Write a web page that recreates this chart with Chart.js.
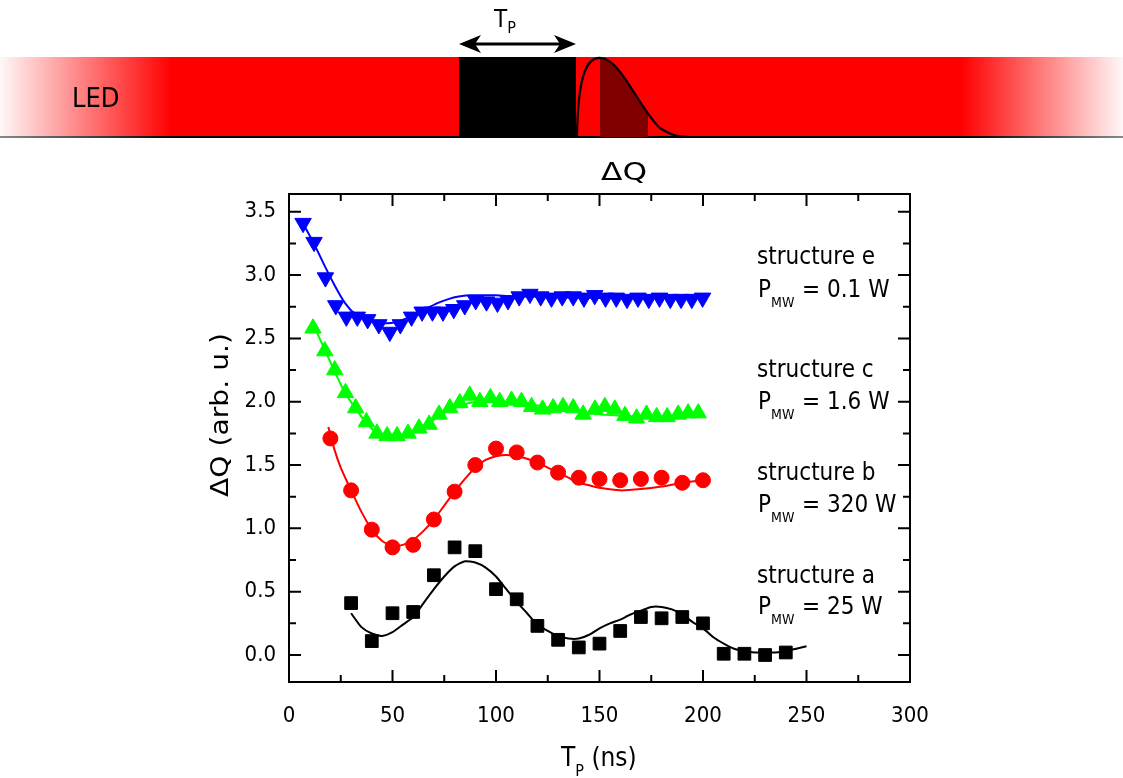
<!DOCTYPE html>
<html><head><meta charset="utf-8">
<script src="https://cdn.jsdelivr.net/npm/chart.js@4.4.0/dist/chart.umd.min.js"></script>
<style>
html,body{margin:0;padding:0;background:#fff;}
#wrap{position:relative;width:1123px;height:778px;overflow:hidden;}
#c{position:absolute;left:0;top:0;}
#ov{position:absolute;left:0;top:0;pointer-events:none;}
#ov text{font-family:"DejaVu Sans Condensed","DejaVu Sans",sans-serif;fill:#000;}
</style></head><body>
<div id="wrap">
<canvas id="c" width="1123" height="778"></canvas>
<svg id="ov" width="1123" height="778" viewBox="0 0 1123 778" xmlns="http://www.w3.org/2000/svg">
 <defs>
  <linearGradient id="led" x1="0" y1="0" x2="1123" y2="0" gradientUnits="userSpaceOnUse">
   <stop offset="0" stop-color="#ff0000" stop-opacity="0.03"/>
   <stop offset="0.153" stop-color="#ff0000" stop-opacity="1"/>
   <stop offset="0.856" stop-color="#ff0000" stop-opacity="1"/>
   <stop offset="1" stop-color="#ff0000" stop-opacity="0.03"/>
  </linearGradient>
  <linearGradient id="base" x1="0" y1="0" x2="1123" y2="0" gradientUnits="userSpaceOnUse">
   <stop offset="0" stop-color="#888888"/>
   <stop offset="0.16" stop-color="#000000"/>
   <stop offset="0.86" stop-color="#000000"/>
   <stop offset="1" stop-color="#888888"/>
  </linearGradient>
  <clipPath id="pc"><path d="M577 137 C578 70 588 57 601 58 C620 58 640 110 660 128 C672 136 680 137 690 137 Z"/></clipPath>
 </defs>
 <rect x="0" y="57" width="1123" height="80" fill="url(#led)"/>
 <line x1="0" y1="137" x2="1123" y2="137" stroke="url(#base)" stroke-width="2"/>
 <rect x="459" y="57" width="117" height="81" fill="#000"/>
 <rect x="600" y="50" width="48" height="90" fill="#800000" clip-path="url(#pc)"/>
 <path d="M577 137 C578 70 588 57 601 58 C620 58 640 110 660 128 C672 136 680 137 690 137" fill="none" stroke="#000" stroke-width="2.2"/>
 <line x1="472" y1="44" x2="563" y2="44" stroke="#000" stroke-width="3"/>
 <polygon points="459,44 481,35 475,44 481,53" fill="#000"/>
 <polygon points="576,44 554,35 560,44 554,53" fill="#000"/>
 <text x="494" y="27" font-size="24">T<tspan font-size="16" dy="6">P</tspan></text>
 <text x="72" y="107" font-size="27">LED</text>
 <text x="601" y="180" font-size="25" textLength="46" lengthAdjust="spacingAndGlyphs">ΔQ</text>

 <text transform="translate(228,415) rotate(-90)" text-anchor="middle" font-size="24" textLength="164" lengthAdjust="spacingAndGlyphs">ΔQ (arb. u.)</text>
 <text x="561" y="766" font-size="26">T<tspan font-size="16" dy="10">P</tspan><tspan dy="-10"> (ns)</tspan></text>

 <text x="757" y="264" font-size="24">structure e</text>
 <text x="758" y="297" font-size="24">P<tspan font-size="14" dy="10">MW</tspan><tspan x="802" dy="-10">= 0.1 W</tspan></text>
 <text x="757" y="377" font-size="24">structure c</text>
 <text x="758" y="409" font-size="24">P<tspan font-size="14" dy="10">MW</tspan><tspan x="802" dy="-10">= 1.6 W</tspan></text>
 <text x="757" y="480" font-size="24">structure b</text>
 <text x="758" y="512" font-size="24">P<tspan font-size="14" dy="10">MW</tspan><tspan x="802" dy="-10">= 320 W</tspan></text>
 <text x="757" y="583" font-size="24">structure a</text>
 <text x="758" y="614" font-size="24">P<tspan font-size="14" dy="10">MW</tspan><tspan x="802" dy="-10">= 25 W</tspan></text>
</svg>
</div>
<script>
// ---- tick labels ----
const xTicks = [0, 50, 100, 150, 200, 250, 300];
const yTicks = [0.0, 0.5, 1.0, 1.5, 2.0, 2.5, 3.0, 3.5];

// ---- structure e (blue, down triangles) ----
const blueX = [6.8,12.1,17.6,22.6,27.7,33.0,38.0,43.4,48.7,53.8,59.2,64.3,69.3,74.4,79.6,84.9,90.2,95.4,100.7,105.8,111.2,116.4,121.6,126.8,132.0,137.3,142.5,147.7,152.9,158.1,163.3,168.6,173.8,179.0,184.2,189.4,194.6,199.8];
const blueY = [3.41,3.26,2.98,2.76,2.67,2.67,2.65,2.61,2.55,2.61,2.67,2.71,2.71,2.71,2.73,2.76,2.80,2.79,2.78,2.80,2.83,2.85,2.83,2.82,2.83,2.83,2.82,2.84,2.82,2.82,2.81,2.82,2.81,2.82,2.81,2.81,2.81,2.82];
const blueFitX = [7,12,17,22,27,32,37,42,47,52,57,62,67,72,77,82,87,92,100,110,120,140,160,180,200];
const blueFitY = [3.40,3.25,3.08,2.92,2.78,2.69,2.65,2.63,2.62,2.63,2.66,2.70,2.74,2.78,2.81,2.83,2.84,2.84,2.84,2.83,2.83,2.82,2.82,2.82,2.82];

// ---- structure c (green, up triangles) ----
const greenX = [11.6,17.3,22.1,27.3,32.2,37.4,42.5,47.4,52.2,57.5,62.8,67.7,72.5,77.7,82.5,87.3,92.2,97.3,101.8,107.5,112.3,117.2,122.5,127.6,132.4,137.3,142.1,147.8,152.6,157.4,162.3,167.9,172.7,177.6,182.7,188.0,192.8,197.7];
const greenY = [2.58,2.40,2.25,2.07,1.95,1.84,1.75,1.73,1.73,1.75,1.79,1.82,1.90,1.95,1.99,2.05,2.00,2.03,2.00,2.01,2.00,1.96,1.94,1.95,1.96,1.95,1.90,1.94,1.96,1.94,1.89,1.87,1.90,1.88,1.88,1.90,1.91,1.91];
const greenFitX = [12,17,22,27,32,37,42,47,52,57,62,67,72,77,82,87,92,100,110,120,130,140,150,160,170,180,190,198];
const greenFitY = [2.60,2.42,2.24,2.07,1.95,1.84,1.76,1.72,1.72,1.74,1.78,1.83,1.88,1.93,1.96,1.99,2.00,2.00,1.99,1.97,1.94,1.92,1.90,1.89,1.88,1.88,1.88,1.88];

// ---- structure b (red circles) ----
const redX = [20,30,40,50,60,70,80,90,100,110,120,130,140,150,160,170,180,190,200];
const redY = [1.71,1.30,0.99,0.85,0.87,1.07,1.29,1.50,1.63,1.60,1.52,1.44,1.40,1.39,1.38,1.39,1.40,1.36,1.38];
const redFitX = [19,22,25,30,35,40,45,50,55,60,65,70,75,80,85,90,95,100,105,110,115,120,125,130,135,140,145,150,160,170,180,190,200];
const redFitY = [1.80,1.62,1.48,1.30,1.13,0.99,0.90,0.86,0.87,0.91,0.98,1.07,1.18,1.29,1.39,1.48,1.54,1.57,1.58,1.57,1.55,1.52,1.48,1.44,1.40,1.36,1.34,1.32,1.30,1.31,1.33,1.36,1.38];

// ---- structure a (black squares) ----
const blackX = [30,40,50,60,70,80,90,100,110,120,130,140,150,160,170,180,190,200,210,220,230,240];
const blackY = [0.41,0.11,0.33,0.34,0.63,0.85,0.82,0.52,0.44,0.23,0.12,0.06,0.09,0.19,0.30,0.29,0.30,0.25,0.01,0.01,0.00,0.02];
const blackFitX = [30,35,40,45,50,55,60,65,70,75,80,85,90,95,100,105,110,115,120,125,130,135,140,145,150,155,160,165,170,175,180,185,190,195,200,205,210,215,220,225,230,235,240,245,250];
const blackFitY = [0.33,0.22,0.17,0.15,0.18,0.24,0.30,0.41,0.52,0.62,0.70,0.74,0.73,0.69,0.62,0.52,0.42,0.33,0.24,0.19,0.15,0.13,0.13,0.16,0.21,0.25,0.28,0.32,0.35,0.38,0.38,0.36,0.32,0.26,0.21,0.14,0.09,0.05,0.03,0.02,0.02,0.02,0.03,0.05,0.07];

const pts = (xs, ys) => xs.map((x, i) => ({x: x, y: ys[i]}));

function pointSet(xs, ys, color, style, radius, rotation) {
  return { data: pts(xs, ys), showLine: false, pointStyle: style, pointRadius: radius,
    pointRotation: rotation || 0, pointBackgroundColor: color, pointBorderColor: color,
    pointBorderWidth: 1, order: 1 };
}
function fitSet(xs, ys, color) {
  return { data: pts(xs, ys), showLine: true, pointRadius: 0, borderColor: color,
    borderWidth: 2, tension: 0.2, fill: false, order: 2 };
}

const frameTicks = {
  id: 'frameTicks',
  afterDraw(chart) {
    const ctx = chart.ctx, a = chart.chartArea;
    const xs = chart.scales.x, ys = chart.scales.y;
    ctx.save();
    ctx.strokeStyle = '#000';
    ctx.lineWidth = 2;
    ctx.beginPath();
    for (let i = 0; i < xTicks.length; i++) {
      const v = xTicks[i];
      const px = xs.getPixelForValue(v);
      ctx.moveTo(px, a.bottom); ctx.lineTo(px, a.bottom - 12);
      ctx.moveTo(px, a.top); ctx.lineTo(px, a.top + 12);
      if (i < xTicks.length - 1) {
        const pm = xs.getPixelForValue((v + xTicks[i + 1]) / 2);
        ctx.moveTo(pm, a.bottom); ctx.lineTo(pm, a.bottom - 7);
        ctx.moveTo(pm, a.top); ctx.lineTo(pm, a.top + 7);
      }
    }
    for (let i = 0; i < yTicks.length; i++) {
      const v = yTicks[i];
      const py = ys.getPixelForValue(v);
      ctx.moveTo(a.left, py); ctx.lineTo(a.left + 12, py);
      ctx.moveTo(a.right, py); ctx.lineTo(a.right - 12, py);
      if (i < yTicks.length - 1) {
        const pm = ys.getPixelForValue((v + yTicks[i + 1]) / 2);
        ctx.moveTo(a.left, pm); ctx.lineTo(a.left + 7, pm);
        ctx.moveTo(a.right, pm); ctx.lineTo(a.right - 7, pm);
      }
    }
    ctx.stroke();
    ctx.strokeRect(a.left, a.top, a.right - a.left, a.bottom - a.top);
    ctx.restore();
  }
};

const tickFont = { family: "'DejaVu Sans Condensed', 'DejaVu Sans', sans-serif", size: 22 };

new Chart(document.getElementById('c'), {
  type: 'scatter',
  data: {
    datasets: [
      pointSet(blueX, blueY, '#0000ff', 'triangle', 9.5, 180),
      pointSet(greenX, greenY, '#00ff00', 'triangle', 9.5, 0),
      pointSet(redX, redY, '#ff0000', 'circle', 7.5),
      pointSet(blackX, blackY, '#000000', 'rect', 9),
      fitSet(blueFitX, blueFitY, '#0000ff'),
      fitSet(greenFitX, greenFitY, '#00ff00'),
      fitSet(redFitX, redFitY, '#ff0000'),
      fitSet(blackFitX, blackFitY, '#000000')
    ]
  },
  options: {
    responsive: false,
    animation: false,
    devicePixelRatio: 1,
    layout: { padding: { left: 0, right: 213, top: 194, bottom: 0 } },
    plugins: { legend: { display: false }, tooltip: { enabled: false } },
    scales: {
      x: {
        type: 'linear', min: 0, max: 300,
        grid: { display: false, drawTicks: false, tickLength: 0 },
        border: { display: false },
        afterBuildTicks: s => { s.ticks = xTicks.map(v => ({ value: v })); },
        afterFit: s => { s.height = 96; },
        ticks: { color: '#000', font: tickFont, padding: 21, maxRotation: 0,
          callback: v => String(v) }
      },
      y: {
        type: 'linear', min: -0.213, max: 3.64,
        grid: { display: false, drawTicks: false, tickLength: 0 },
        border: { display: false },
        afterBuildTicks: s => { s.ticks = yTicks.map(v => ({ value: v })); },
        afterFit: s => { s.width = 289; },
        ticks: { color: '#000', font: tickFont, padding: 13,
          callback: v => Number(v).toFixed(1) }
      }
    }
  },
  plugins: [frameTicks]
});
</script>
</body></html>
